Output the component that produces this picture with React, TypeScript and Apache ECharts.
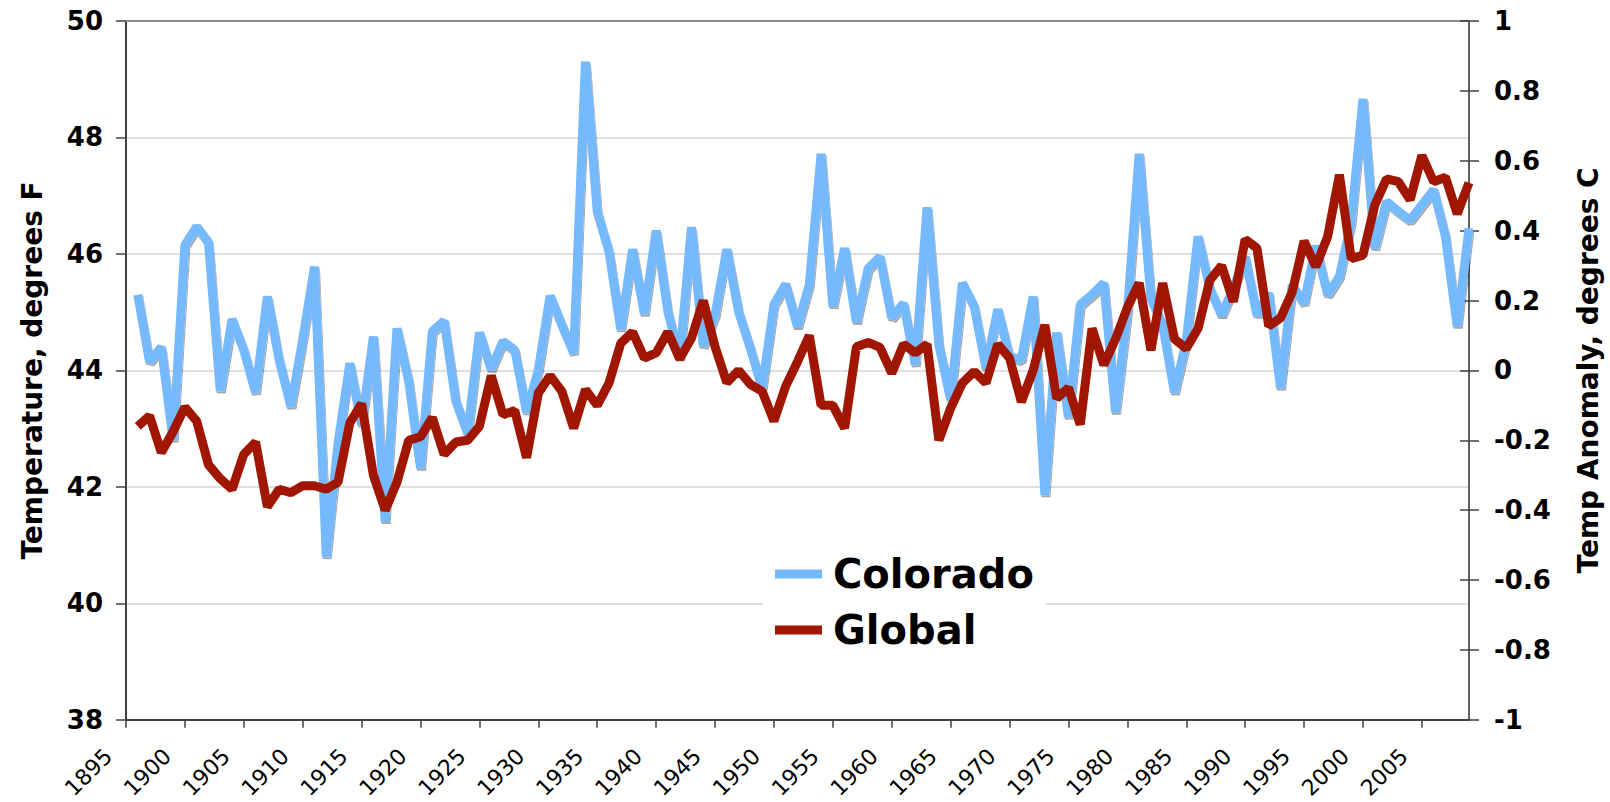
import React, { useEffect, useRef } from "react";
import * as echarts from "echarts";

const years: number[] = Array.from({ length: 114 }, (_, i) => 1896 + i);

const colorado: number[] = [
  45.3, 44.15, 44.4, 42.8, 46.15, 46.47, 46.2, 43.65, 44.88, 44.35,
  43.62, 45.27, 44.18, 43.38, 44.53, 45.78, 40.8, 42.75, 44.12, 43.07,
  44.58, 41.4, 44.72, 43.81, 42.32, 44.67, 44.85, 43.47, 42.92, 44.65,
  44.02, 44.5, 44.35, 43.28, 44.01, 45.28, 44.78, 44.3, 49.3, 46.73,
  46.04, 44.7, 46.08, 44.97, 46.4, 45.01, 44.2, 46.46, 44.42, 44.95,
  46.08, 45.01, 44.38, 43.7, 45.13, 45.48, 44.75, 45.47, 47.72, 45.1,
  46.1, 44.83, 45.75, 45.95, 44.9, 45.15, 44.1, 46.8, 44.44, 43.5,
  45.5, 45.1, 44.04, 45.05, 44.24, 44.18, 45.27, 41.86, 44.65, 43.2,
  45.13, 45.3, 45.5, 43.28, 45.0, 47.72, 45.24, 44.78, 43.62, 44.5,
  46.3, 45.41, 44.95, 45.41, 45.95, 44.95, 45.33, 43.7, 45.47, 45.15,
  46.14, 45.3, 45.61, 46.55, 48.66, 46.1, 46.9, 46.73, 46.58, 46.84,
  47.1, 46.3, 44.76, 46.44,
];

const globalAnom: number[] = [
  -0.16, -0.13, -0.235, -0.175, -0.105, -0.145, -0.27, -0.31, -0.34, -0.24,
  -0.205, -0.39, -0.34, -0.35, -0.33, -0.33, -0.34, -0.32, -0.15, -0.095,
  -0.3, -0.4, -0.32, -0.2, -0.19, -0.135, -0.24, -0.205, -0.2, -0.16,
  -0.015, -0.127, -0.115, -0.25, -0.065, -0.015, -0.06, -0.165, -0.055, -0.1,
  -0.036, 0.078, 0.11, 0.035, 0.05, 0.11, 0.033, 0.092, 0.2, 0.068,
  -0.035, 0.0, -0.04, -0.06, -0.145, -0.045, 0.025, 0.1, -0.1, -0.1,
  -0.165, 0.068, 0.08, 0.066, -0.008, 0.075, 0.05, 0.075, -0.2, -0.108,
  -0.036, -0.003, -0.036, 0.075, 0.035, -0.09, 0.0, 0.13, -0.08, -0.05,
  -0.155, 0.12, 0.016, 0.09, 0.18, 0.25, 0.058, 0.25, 0.09, 0.063,
  0.12, 0.258, 0.3, 0.197, 0.375, 0.35, 0.127, 0.15, 0.225, 0.37,
  0.297, 0.383, 0.56, 0.32, 0.33, 0.473, 0.548, 0.54, 0.488, 0.615,
  0.54, 0.553, 0.448, 0.537,
];

const xTickLabels: number[] = [
  1895, 1900, 1905, 1910, 1915, 1920, 1925, 1930, 1935, 1940, 1945, 1950,
  1955, 1960, 1965, 1970, 1975, 1980, 1985, 1990, 1995, 2000, 2005,
];

const seriesNames = ["Colorado", "Global"];
const leftAxisName = "Temperature, degrees F";
const rightAxisName = "Temp Anomaly, degrees C";

export default function App() {
  const ref = useRef<HTMLDivElement>(null);
  useEffect(() => {
    document.body.style.margin = "0";
    const chart = echarts.init(ref.current!, null, { renderer: "svg" });
    const font = "'DejaVu Sans', Verdana, sans-serif";
    const dark = "#404040";
    chart.setOption({
      animation: false,
      backgroundColor: "#fff",
      grid: { left: 126, right: 137, top: 21, bottom: 82 },
      legend: {
        data: seriesNames,
        orient: "vertical",
        left: 763,
        top: 541,
        backgroundColor: "#fff",
        padding: [10, 12, 10, 12],
        itemWidth: 47,
        itemHeight: 9,
        itemGap: 10,
        icon: "rect",
        textStyle: {
          fontSize: 40,
          fontWeight: "bold",
          color: "#000",
          fontFamily: font,
          lineHeight: 46,
          padding: [0, 0, 0, 6],
        },
      },
      xAxis: [
        {
          type: "value",
          position: "bottom",
          min: 1895,
          max: 2009,
          interval: 5,
          axisLine: { show: true, onZero: false, lineStyle: { color: dark, width: 2 } },
          axisTick: {
            show: true,
            length: 8,
            customValues: xTickLabels,
            lineStyle: { color: dark, width: 1.5 },
          },
          axisLabel: {
            customValues: xTickLabels,
            rotate: 45,
            fontSize: 22,
            color: "#000",
            fontFamily: font,
            margin: 15,
            padding: [0, 25, 0, 0],
            formatter: (v: number) => String(v),
          },
          splitLine: { show: false },
        },
        {
          type: "value",
          position: "top",
          min: 1895,
          max: 2009,
          axisLine: { show: true, onZero: false, lineStyle: { color: "#8c8c8c", width: 2 } },
          axisTick: { show: false },
          axisLabel: { show: false },
          splitLine: { show: false },
        },
      ],
      yAxis: [
        {
          type: "value",
          position: "left",
          min: 38,
          max: 50,
          interval: 2,
          name: leftAxisName,
          nameLocation: "middle",
          nameGap: 80,
          nameTextStyle: { fontSize: 28, fontWeight: "bold", color: "#000", fontFamily: font },
          axisLine: { show: true, onZero: false, lineStyle: { color: dark, width: 2 } },
          axisTick: { show: true, length: 10, lineStyle: { color: dark, width: 1.5 } },
          axisLabel: { fontSize: 26, fontWeight: "bold", color: "#000", fontFamily: font, margin: 23 },
          splitLine: { show: true, lineStyle: { color: "#d4d4d4", width: 1.5 } },
        },
        {
          type: "value",
          position: "right",
          min: -1,
          max: 1,
          interval: 0.2,
          name: rightAxisName,
          nameLocation: "middle",
          nameGap: 105,
          nameTextStyle: { fontSize: 28, fontWeight: "bold", color: "#000", fontFamily: font },
          axisLine: { show: true, onZero: false, lineStyle: { color: "#606060", width: 2 } },
          axisTick: { show: true, length: 10, lineStyle: { color: dark, width: 1.5 } },
          axisLabel: { fontSize: 26, fontWeight: "bold", color: "#000", fontFamily: font, margin: 25 },
          splitLine: { show: false },
        },
        {
          type: "value",
          position: "right",
          min: -1,
          max: 1,
          interval: 0.2,
          axisLine: { show: false, onZero: false },
          axisTick: { show: true, inside: true, length: 9, lineStyle: { color: dark, width: 1.5 } },
          axisLabel: { show: false },
          splitLine: { show: false },
        },
      ],
      series: [
        {
          name: seriesNames[0],
          type: "line",
          xAxisIndex: 0,
          yAxisIndex: 0,
          data: years.map((y, i) => [y, colorado[i]]),
          showSymbol: false,
          symbol: "none",
          itemStyle: { color: "#75B9FF" },
          lineStyle: {
            color: "#75B9FF",
            width: 9,
            join: "bevel",
            shadowColor: "rgba(0,0,0,0.35)",
            shadowOffsetX: 1,
            shadowOffsetY: 2,
            shadowBlur: 1,
          },
          z: 2,
        },
        {
          name: seriesNames[1],
          type: "line",
          xAxisIndex: 0,
          yAxisIndex: 1,
          data: years.map((y, i) => [y, globalAnom[i]]),
          showSymbol: false,
          symbol: "none",
          itemStyle: { color: "#A01600" },
          lineStyle: { color: "#A01600", width: 9, join: "bevel" },
          z: 3,
        },
      ],
    });
    return () => chart.dispose();
  }, []);
  return (
    <div
      ref={ref}
      style={{ position: "absolute", left: 0, top: 0, width: 1610, height: 802 }}
    />
  );
}
